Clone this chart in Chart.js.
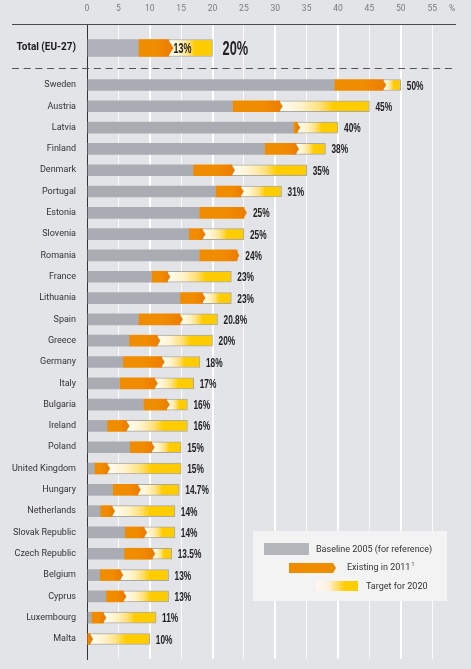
<!DOCTYPE html>
<html>
<head>
<meta charset="utf-8">
<script src="https://cdn.jsdelivr.net/npm/chart.js@4.4.1/dist/chart.umd.min.js"></script>
<style>
  html, body { margin: 0; padding: 0; background: #e3e4e8; }
  #wrap { width: 471px; height: 669px; position: relative; }
</style>
</head>
<body>
<div id="wrap"><canvas id="chart"></canvas></div>
<script>
// share of renewables, %
const totalLabel = "Total (EU-27)";
const totalBaseline = 8.3;
const totalExisting = 13.0;
const totalTarget = 20;

const countries = ["Sweden", "Austria", "Latvia", "Finland", "Denmark", "Portugal", "Estonia",
  "Slovenia", "Romania", "France", "Lithuania", "Spain", "Greece", "Germany", "Italy",
  "Bulgaria", "Ireland", "Poland", "United Kingdom", "Hungary", "Netherlands",
  "Slovak Republic", "Czech Republic", "Belgium", "Cyprus", "Luxembourg", "Malta"];
const baseline = [39.5, 23.3, 33.0, 28.4, 17.0, 20.6, 18.0, 16.3, 18.0, 10.4, 14.9, 8.3, 6.8,
  5.8, 5.3, 9.1, 3.3, 6.9, 1.3, 4.2, 2.2, 6.1, 6.0, 2.1, 3.1, 0.8, 0.0];
const existing = [47.2, 30.7, 33.5, 33.3, 23.1, 24.5, 25.0, 18.4, 23.8, 12.8, 18.4, 14.8, 11.2,
  11.9, 10.8, 12.7, 6.3, 10.3, 3.2, 8.1, 4.0, 9.1, 10.4, 5.3, 5.8, 2.6, 0.5];
const target = [50, 45, 40, 38, 35, 31, 25, 25, 24, 23, 23, 20.8, 20, 18, 17, 16, 16, 15, 15,
  14.7, 14, 14, 13.5, 13, 13, 11, 10];

const xTicks = [0, 5, 10, 15, 20, 25, 30, 35, 40, 45, 50, 55];

const GREY = "#a9acb3";
const ORANGE = "#f08c00";
const ORANGE_END = "#ee7e00";

// row positions on the (linear) y axis
const totalPos = 0.264;
const rowPos = countries.map((c, i) => i + 2);
const sepPos = 1.2;

function targetFill(c) {
  const chart = c.chart;
  const xs = chart.scales.x;
  if (!xs || !chart.chartArea || !c.raw) return "#ffcc00";
  const x0 = xs.getPixelForValue(c.raw.x[0]);
  const x1 = xs.getPixelForValue(c.raw.x[1]);
  if (x1 - x0 < 1) return "#ffcc00";
  const g = chart.ctx.createLinearGradient(x0, 0, x1, 0);
  g.addColorStop(0, "#fffdf6");
  g.addColorStop(0.25, "#fff2c8");
  g.addColorStop(0.45, "#ffe07a");
  g.addColorStop(0.6, "#ffcc00");
  g.addColorStop(1, "#ffcc00");
  return g;
}

function orangeFill(c) {
  const chart = c.chart;
  const xs = chart.scales.x;
  if (!xs || !chart.chartArea || !c.raw) return ORANGE;
  const x0 = xs.getPixelForValue(c.raw.x[0]);
  const x1 = xs.getPixelForValue(c.raw.x[1]);
  if (x1 - x0 < 1) return ORANGE;
  const g = chart.ctx.createLinearGradient(x0, 0, x1, 0);
  g.addColorStop(0, ORANGE);
  g.addColorStop(0.6, ORANGE);
  g.addColorStop(1, ORANGE_END);
  return g;
}

const datasets = [
  {
    label: "Existing in 2011",
    data: countries.map((c, i) => ({ x: [baseline[i], existing[i]], y: rowPos[i] })),
    backgroundColor: orangeFill, barThickness: 11, grouped: false
  },
  {
    label: "Baseline 2005 (for reference)",
    data: countries.map((c, i) => ({ x: [0, baseline[i]], y: rowPos[i] })),
    backgroundColor: GREY, barThickness: 11, grouped: false
  },
  {
    label: "Target for 2020",
    data: countries.map((c, i) => ({ x: [Math.min(existing[i], target[i]), target[i]], y: rowPos[i] })),
    backgroundColor: targetFill, borderColor: "#aaa9a4",
    borderWidth: (c) => (target[c.dataIndex] > existing[c.dataIndex] ? 1 : 0),
    borderSkipped: "start", barThickness: 11, grouped: false
  },
  {
    label: "total existing",
    data: [{ x: [totalBaseline, totalExisting], y: totalPos }],
    backgroundColor: orangeFill, barThickness: 17, grouped: false
  },
  {
    label: "total baseline",
    data: [{ x: [0, totalBaseline], y: totalPos }],
    backgroundColor: "#aeb1b7", barThickness: 17, grouped: false
  },
  {
    label: "total target",
    data: [{ x: [totalExisting, totalTarget], y: totalPos }],
    backgroundColor: targetFill, borderColor: "#aaa9a4", borderWidth: 1,
    borderSkipped: "start", barThickness: 17, grouped: false
  }
];

// condensed bold numbers like the original's display face
function narrowText(ctx, text, x, y, size) {
  ctx.save();
  ctx.translate(x, y);
  ctx.scale(0.64, 1);
  ctx.font = "bold " + size + "px 'Liberation Sans', Arial, sans-serif";
  ctx.fillText(text, 0, 0);
  ctx.restore();
}

// arrow tips on the orange bars, value labels, separator lines and legend
const decorations = {
  id: "decorations",
  beforeDatasetsDraw(chart) {
    const { ctx, chartArea, scales } = chart;
    ctx.save();
    ctx.strokeStyle = "#4a4a4a";
    ctx.lineWidth = 1;
    ctx.beginPath();
    ctx.moveTo(12, chartArea.top + 0.5);
    ctx.lineTo(chartArea.right, chartArea.top + 0.5);
    ctx.stroke();
    const ySep = Math.round(scales.y.getPixelForValue(sepPos)) + 0.5;
    ctx.setLineDash([7, 4.7]);
    ctx.strokeStyle = "#555";
    ctx.beginPath();
    ctx.moveTo(12, ySep);
    ctx.lineTo(chartArea.right, ySep);
    ctx.stroke();
    ctx.restore();
  },
  afterDatasetsDraw(chart) {
    const { ctx } = chart;
    ctx.save();
    // arrow tips
    [0, 3].forEach((d) => {
      chart.getDatasetMeta(d).data.forEach((el) => {
        const h = el.height;
        const tip = h > 12 ? 5 : 3;
        ctx.fillStyle = ORANGE_END;
        ctx.beginPath();
        ctx.moveTo(el.x - 0.5, el.y - h / 2);
        ctx.lineTo(el.x + tip, el.y);
        ctx.lineTo(el.x - 0.5, el.y + h / 2);
        ctx.closePath();
        ctx.fill();
      });
    });
    // value labels
    ctx.fillStyle = "#222";
    ctx.textBaseline = "middle";
    ctx.textAlign = "left";
    const tMeta = chart.getDatasetMeta(2).data;
    const eMeta = chart.getDatasetMeta(0).data;
    tMeta.forEach((el, i) => {
      const x = Math.max(el.x, eMeta[i].x + 3) + 6;
      narrowText(ctx, target[i] + "%", x, el.y + 1, 13);
    });
    const tot = chart.getDatasetMeta(5).data[0];
    const totE = chart.getDatasetMeta(3).data[0];
    narrowText(ctx, totalTarget + "%", tot.x + 10, tot.y + 1, 20);
    narrowText(ctx, Math.round(totalExisting) + "%", totE.x + 5, tot.y + 1, 14);

    // legend
    const lx = 253, ly = 531;
    ctx.fillStyle = "#f2f3f2";
    ctx.fillRect(lx, ly, 194, 70);
    ctx.fillStyle = "#b4b6bc";
    ctx.fillRect(264, 543, 45, 12);
    ctx.fillStyle = ORANGE;
    ctx.beginPath();
    ctx.moveTo(289, 563);
    ctx.lineTo(333, 563);
    ctx.lineTo(336, 568);
    ctx.lineTo(333, 573);
    ctx.lineTo(289, 573);
    ctx.closePath();
    ctx.fill();
    const g = ctx.createLinearGradient(316, 0, 358, 0);
    g.addColorStop(0, "#fff8f8");
    g.addColorStop(0.3, "#fff0d8");
    g.addColorStop(0.7, "#ffcc00");
    g.addColorStop(1, "#ffcc00");
    ctx.fillStyle = g;
    ctx.fillRect(316, 581, 42, 10);
    ctx.fillStyle = "#333";
    ctx.font = "9px Roboto, sans-serif";
    ctx.fillText("Baseline 2005 (for reference)", 316, 549.5);
    ctx.fillText("Existing in 2011", 347, 568);
    const w = ctx.measureText("Existing in 2011").width;
    ctx.font = "5px Roboto, sans-serif";
    ctx.fillText("1", 347 + w + 1, 565);
    ctx.font = "9px Roboto, sans-serif";
    ctx.fillText("Target for 2020", 366, 586.5);
    ctx.restore();
  }
};

new Chart(document.getElementById("chart"), {
  type: "bar",
  data: { datasets },
  options: {
    indexAxis: "y",
    responsive: true,
    maintainAspectRatio: false,
    animation: false,
    layout: { padding: { left: 0, right: 15, top: 0, bottom: 10 } },
    plugins: { legend: { display: false }, tooltip: { enabled: false } },
    scales: {
      x: {
        type: "linear",
        position: "top",
        min: 0,
        max: 58.8,
        afterBuildTicks: (s) => {
          s.ticks = xTicks.map((v) => ({ value: v })).concat([{ value: 58.2 }]);
        },
        afterFit: (s) => {
          s.height = 24;
          s.paddingLeft = 0;
          s.paddingRight = 0;
        },
        ticks: {
          autoSkip: false,
          maxRotation: 0,
          padding: 10,
          color: "#7a7a7a",
          font: { size: 8.5, family: "Roboto, sans-serif" },
          callback: (v) => (xTicks.includes(v) ? String(v) : "%")
        },
        border: { display: false },
        grid: {
          drawTicks: false,
          color: (c) => {
            const v = c.tick ? c.tick.value : 0;
            if (v === 0 || !xTicks.includes(v)) return "rgba(0,0,0,0)";
            return v % 10 === 0 ? "#ffffff" : "rgba(255,255,255,0.85)";
          },
          lineWidth: (c) => (c.tick && c.tick.value % 10 === 0 ? 2 : 1)
        }
      },
      y: {
        type: "linear",
        reverse: true,
        offset: false,
        min: -0.862,
        max: 28.939,
        afterBuildTicks: (s) => {
          s.ticks = [{ value: totalPos }].concat(rowPos.map((v) => ({ value: v })));
        },
        afterFit: (s) => {
          s.width = 87;
          s.paddingTop = 0;
          s.paddingBottom = 0;
        },
        ticks: {
          autoSkip: false,
          padding: 11,
          color: (c) => (c.index === 0 ? "#1a1a1a" : "#333"),
          font: (c) => (c.index === 0
            ? { size: 10, weight: "bold", family: "Roboto, sans-serif" }
            : { size: 9, family: "Roboto, sans-serif" }),
          callback: (v, i) => (i === 0 ? totalLabel : countries[i - 1])
        },
        border: { display: true, color: "#333", width: 1 },
        grid: { display: false, drawTicks: false, offset: false }
      }
    }
  },
  plugins: [decorations]
});
</script>
</body>
</html>
